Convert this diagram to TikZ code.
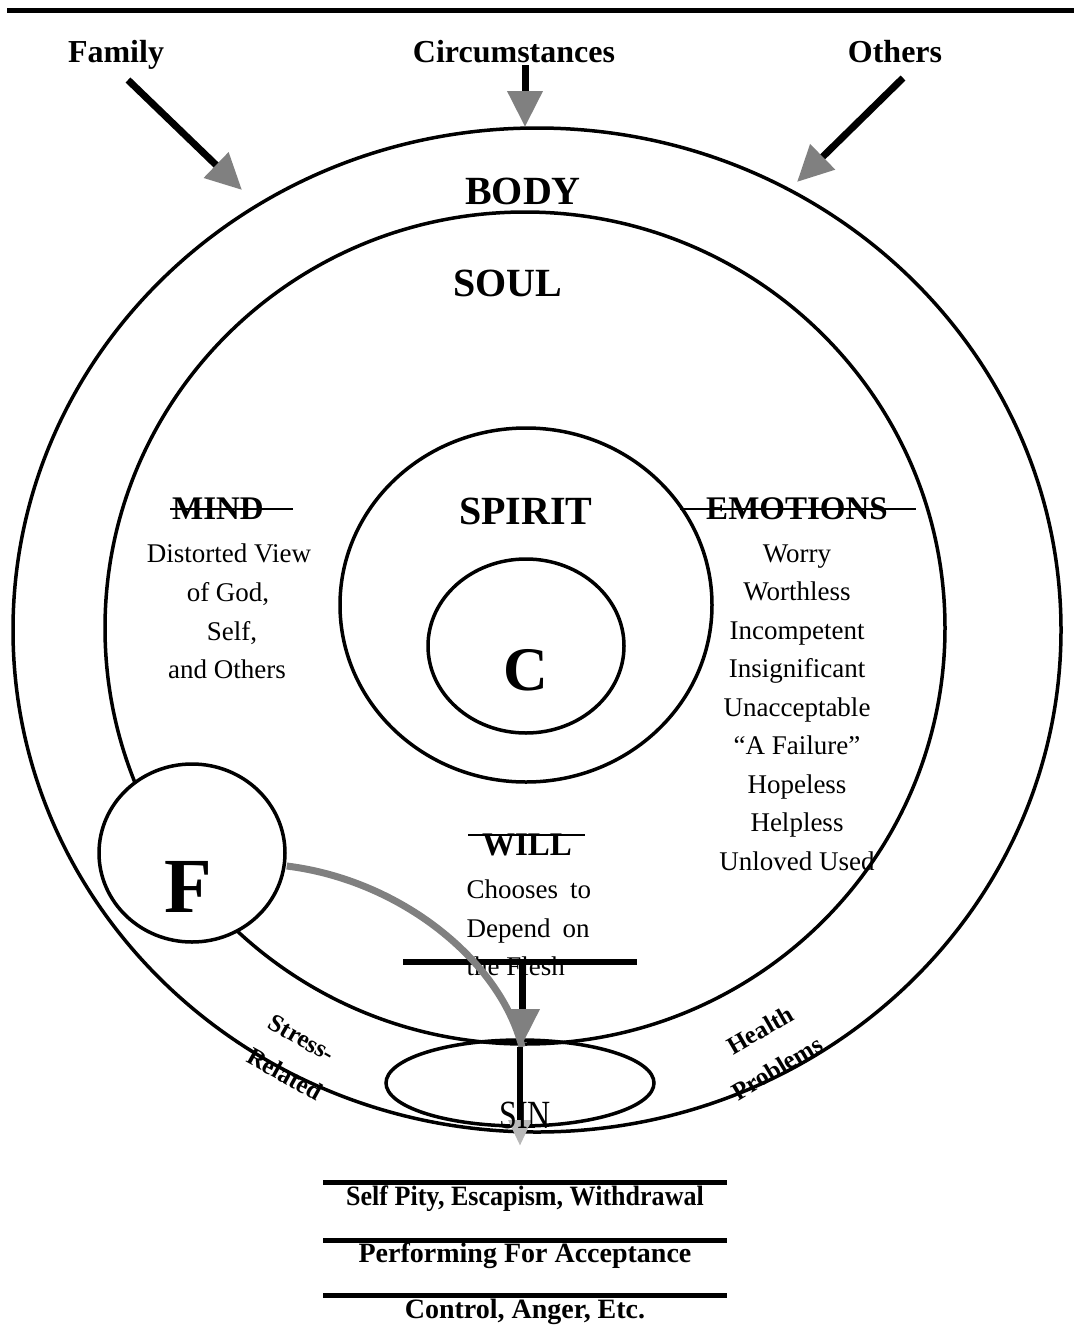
\documentclass[tikz,border=0pt]{standalone}
\usepackage{fontspec}
\setmainfont{Liberation Serif}
\usetikzlibrary{arrows.meta,shapes.geometric}
\definecolor{midgray}{HTML}{808080}
\definecolor{lightgray2}{HTML}{B8B8B8}
\begin{document}
\begin{tikzpicture}[x=1pt,y=-1pt,
  ring/.style={draw, line width=3.5pt, ellipse, inner sep=0pt},
  toplbl/.style={font=\fontsize{32}{36}\selectfont\bfseries, anchor=base},
  ttl/.style={font=\fontsize{40}{44}\selectfont\bfseries, anchor=base},
  sub/.style={font=\fontsize{33}{36}\selectfont\bfseries, anchor=base},
  txt/.style={font=\fontsize{27}{30}\selectfont, anchor=base},
  side/.style={font=\fontsize{25}{28}\selectfont\bfseries, inner sep=0pt},
  listtxt/.style={font=\fontsize{28}{30}\selectfont\bfseries, anchor=base},
  strike/.style={line width=2.5pt},
  rule/.style={line width=5pt},
  inarrow/.style={line width=7pt, -{Triangle[length=36pt,width=34pt,color=midgray]}},
  lastarrow/.style={line width=6pt, -{Triangle[length=26pt,width=22pt,color=lightgray2]}},
  flesh/.style={line width=7pt, midgray}]
\useasboundingbox (0,0) rectangle (1074,1325);
\draw[line width=5pt] (7,10) -- (1074,10);

% rings
\node[ring, minimum width=1048pt, minimum height=1004pt] (bodyc) at (537,630) {};
\node[ring, minimum width=840pt, minimum height=832pt] (soulc) at (525,628) {};
\node[ring, minimum width=372pt, minimum height=354pt] (spiritc) at (526,605) {};
\node[ring, minimum width=196pt, minimum height=174pt] (cc) at (526,646) {};
\node[ring, fill=white, minimum width=186pt, minimum height=178pt] (fc) at (192,853) {};
\node[ring, minimum width=268pt, minimum height=86pt] (sinc) at (520,1083) {};

% top labels
\node[toplbl] (family) at (116,62) {Family};
\node[toplbl] (circ) at (514,62) {Circumstances};
\node[toplbl] (others) at (895,62) {Others};

\coordinate (fam0) at (128,80);
\coordinate (fam1) at (242,190);
\coordinate (circ0) at (525,65);
\coordinate (circ1) at (525,127);
\coordinate (oth0) at (903,78);
\coordinate (oth1) at (797,182);
\draw[inarrow] (fam0) -- (fam1);
\draw[inarrow] (circ0) -- (circ1);
\draw[inarrow] (oth0) -- (oth1);

% titles
\node[ttl] (body) at (523,204) {BODY};
\node[ttl] (soul) at (508,296) {SOUL};
\node[ttl] (spirit) at (526,524) {SPIRIT};
\node[font=\fontsize{62}{64}\selectfont\bfseries, anchor=base] (c) at (526,690) {C};
\node[font=\fontsize{78}{80}\selectfont\bfseries, anchor=base] (f) at (188,912) {F};

% mind
\node[sub] (mind) at (218,519) {MIND};
\draw[strike] (170,509) -- (293,509);
\node[txt] (m1) at (229,562) {Distorted View};
\node[txt] (m2) at (228,601) {of God,};
\node[txt] (m3) at (232,640) {Self,};
\node[txt] (m4) at (227,678) {and Others};

% emotions
\node[sub] (emotions) at (797,519) {EMOTIONS};
\draw[strike] (680,509) -- (916,509);
\foreach \w [count=\i from 0] in {Worry,Worthless,Incompetent,Insignificant,Unacceptable,{``A Failure''},Hopeless,Helpless,Unloved Used}
  \node[txt] (e\i) at (797,562+38.5*\i) {\w};

% will
\node[sub] (will) at (527,855) {WILL};
\draw[strike] (468,835) -- (585,835);
\node[txt, anchor=base west] (w1) at (463,898) {Chooses\hspace{0.45em}to};
\node[txt, anchor=base west] (w2) at (463,937) {Depend\hspace{0.45em}on};
\node[txt, anchor=base west] (w3) at (463,975) {the Flesh};
\draw[line width=6pt] (403,962) -- (637,962);
\coordinate (bar) at (522,962);

% flesh curve
\coordinate (sintop) at (522,1047);
\draw[flesh] (fc.east |- 0,866) .. controls (400,880) and (500,960) .. (sintop);

% arrows into sin
\coordinate (bartip) at (522,1045);
\draw[inarrow] (bar) -- (bartip);
\coordinate (sin0) at (520,1047);
\coordinate (sin1) at (520,1146);
\draw[lastarrow] (sin0) -- (sin1);

\node[font=\fontsize{40}{42}\selectfont, xscale=0.8, anchor=base] (sin) at (525,1128) {SIN};

% side labels
\node[side, rotate=-30] (stress) at (302,1038) {Stress-};
\node[side, rotate=-29] (related) at (285,1074) {Related};
\node[side, rotate=30] (health) at (760,1030) {Health};
\node[side, rotate=31] (problems) at (777,1068) {Problems};

% bottom list
\draw[rule] (323,1182) -- (727,1182);
\node[listtxt, xscale=0.93] (l1) at (525,1205) {Self Pity, Escapism, Withdrawal};
\draw[rule] (323,1240) -- (727,1240);
\node[listtxt] (l2) at (525,1262) {Performing For Acceptance};
\draw[rule] (323,1295) -- (727,1295);
\node[listtxt] (l3) at (525,1318) {Control, Anger, Etc.};
\end{tikzpicture}
\end{document}
